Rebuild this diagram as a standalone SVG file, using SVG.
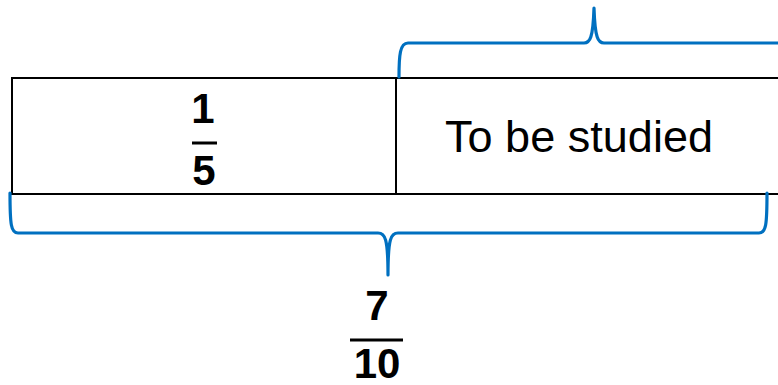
<svg xmlns="http://www.w3.org/2000/svg" width="778" height="385" viewBox="0 0 778 385">
<style>
.box{fill:none;stroke:#000;stroke-width:2}
.brace{fill:none;stroke:#0070C0;stroke-width:3.2;stroke-linecap:round;stroke-linejoin:round}
.num{font-family:"Liberation Sans",Arial,sans-serif;font-weight:bold;font-size:42px;fill:#000;text-anchor:middle}
.lbl{font-family:"Liberation Sans",Arial,sans-serif;font-size:44px;fill:#000}
.bar{stroke:#000;stroke-width:3}
</style>
<rect width="778" height="385" fill="#fff"/>
<g id="bar-model">
<path class="box" d="M778,78 L12,78 L12,194 L778,194"/>
<line class="box" x1="396" y1="78" x2="396" y2="194"/>
</g>
<g id="part-known">
<text class="num" x="203" y="123">1</text>
<line class="bar" x1="192" y1="143" x2="217" y2="143"/>
<text class="num" x="204" y="185">5</text>
</g>
<g id="part-unknown">
<text class="lbl" x="445" y="152" textLength="268" lengthAdjust="spacingAndGlyphs">To be studied</text>
</g>
<g id="connectors">
<path class="brace" d="M399,77 C399,55 400,43 408,43 L584,43 C590,43 593,38 594,8 C595,38 598,43 604,43 L780,43"/>
<path class="brace" d="M10,193 C10,225 11,233 18,233 L378,233 C385,233 388,238 388,275 C388,238 391,233 398,233 L759,233 C766,233 767,225 767,193"/>
</g>
<g id="total">
<text class="num" x="377" y="320">7</text>
<line class="bar" x1="350" y1="340" x2="403" y2="340"/>
<text class="num" x="377" y="378" font-size="40">10</text>
</g>
</svg>
